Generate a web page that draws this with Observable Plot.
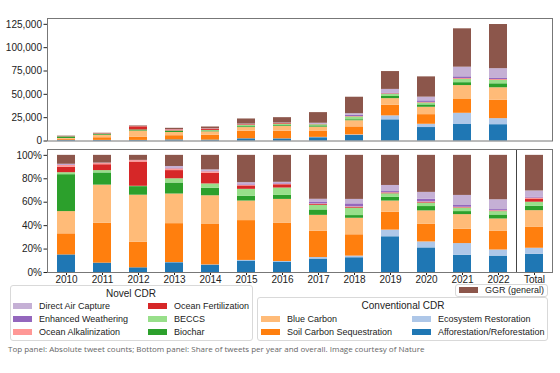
<!DOCTYPE html>
<html>
<head>
<meta charset="utf-8">
<script src="https://cdn.jsdelivr.net/npm/d3@7"></script>
<script src="https://cdn.jsdelivr.net/npm/@observablehq/plot@0.6"></script>
<style>
  html, body { margin: 0; padding: 0; background: #fff; }
  #root { position: relative; width: 560px; height: 373px; overflow: hidden; font-family: "Liberation Sans", Arial, sans-serif; color: #222; }
  .panel { position: absolute; left: 0; }
  .lbox { position: absolute; border: 1px solid #d9d9d9; border-radius: 3px; background: rgba(255,255,255,0.85); box-sizing: border-box; }
  .ltitle { position: absolute; font-size: 10px; white-space: nowrap; transform: translate(-50%, -50%); }
  .item { position: absolute; font-size: 9px; white-space: nowrap; display: flex; align-items: center; transform: translateY(-50%); }
  .sw { width: 19px; height: 6px; margin-right: 7px; }
  #caption { position: absolute; left: 8px; top: 343px; font-family: "Open Sans", sans-serif; font-size: 8px; color: #666; white-space: nowrap; }
</style>
</head>
<body>
<div id="root">
  <div id="top" class="panel" style="top:0px"></div>
  <div id="bottom" class="panel" style="top:146px"></div>
  <div id="legends"></div>
  <div id="caption">Top panel: Absolute tweet counts; Bottom panel: Share of tweets per year and overall. Image courtesy of Nature</div>
</div>
<script>
// ---------- data ----------
const years = ["2010","2011","2012","2013","2014","2015","2016","2017","2018","2019","2020","2021","2022"];
const totalLabel = "Total";
const categories = [
  "Afforestation/Reforestation", "Ecosystem Restoration", "Soil Carbon Sequestration", "Blue Carbon",
  "Biochar", "BECCS", "Ocean Fertilization", "Ocean Alkalinization", "Enhanced Weathering",
  "Direct Air Capture", "GGR (general)"
];
const colors = ["#1f77b4","#aec7e8","#ff7f0e","#ffbb78","#2ca02c","#98df8a","#d62728","#ff9896","#9467bd","#c5b0d5","#8c564b"];

// absolute tweet counts per year (top panel bar heights)
const yearTotals = [5200, 8300, 16100, 13600, 15000, 23600, 25000, 30400, 46900, 74400, 68700, 120200, 124800];

// share of tweets (%) per year, plus the overall "Total" column (last value)
const afforestation = [15, 8, 4, 8.3, 6.3, 9.8, 8.9, 11.5, 12.6, 30.5, 21, 14.7, 14, 15.5];
const ecosystem     = [0, 0, 0, 0.2, 0.2, 0.5, 0.5, 1.3, 1.4, 5.7, 5.1, 10, 5.2, 5.2];
const soilCarbon    = [18, 34, 21.9, 33.2, 34.5, 34, 32.8, 22.4, 18.2, 15.2, 15, 12.3, 15.9, 17.8];
const blueCarbon    = [19, 32.6, 40.1, 25.3, 24.5, 16.7, 20.2, 13.6, 14.1, 9.6, 11.5, 12.4, 10.6, 14.3];
const biochar       = [31.5, 10.4, 7.3, 9.4, 6.5, 4, 3.4, 4.6, 2.3, 3.1, 3.7, 2.6, 3.4, 3.8];
const beccs         = [1.7, 2, 0.3, 3.6, 3.6, 6, 6.3, 3.9, 6.3, 3.1, 2.9, 2.9, 2.9, 3.4];
const oceanFert     = [4.7, 5, 20.7, 7, 9.1, 2.9, 2.8, 0.7, 0.6, 0.6, 0.5, 0.4, 0.4, 2.3];
const oceanAlk      = [1.5, 1, 1.2, 1.5, 1.3, 0.6, 0.5, 0.5, 0.5, 0.3, 0.5, 0.4, 0.4, 1.2];
const enhWeathering = [0.5, 0.2, 0.1, 0.3, 0.3, 0.5, 0.5, 1.7, 2.6, 1.0, 2.4, 1.5, 0.9, 0.9];
const dac           = [0.5, 0.2, 0.1, 1.7, 1.3, 1.7, 1.1, 2.3, 3.8, 5.2, 5.8, 8.6, 8.4, 5.2];
const ggr           = [7.6, 6.6, 4.3, 9.5, 12.4, 23.3, 23, 37.5, 37.6, 25.7, 31.6, 34.2, 37.9, 30.4];

const shareSeries = [afforestation, ecosystem, soilCarbon, blueCarbon, biochar, beccs, oceanFert, oceanAlk, enhWeathering, dac, ggr];

// legend groups
const novelLegend = [["Direct Air Capture","Ocean Fertilization"],["Enhanced Weathering","BECCS"],["Ocean Alkalinization","Biochar"]];
const convLegend = [["Blue Carbon","Ecosystem Restoration"],["Soil Carbon Sequestration","Afforestation/Reforestation"]];

// ---------- tables ----------
const xDomain = [...years, totalLabel];
const topRows = [];
const shareRows = [];
categories.forEach((c, ci) => {
  xDomain.forEach((x, xi) => {
    const s = shareSeries[ci][xi];
    shareRows.push({x, category: c, share: s});
    if (xi < years.length) topRows.push({x, category: c, count: yearTotals[xi] * s / 100});
  });
});

const style = {fontFamily: "'Liberation Sans', Arial, sans-serif", fontSize: "10px", color: "#222", background: "transparent"};
const colorScale = {domain: categories, range: colors};
const xScale = {domain: xDomain, paddingInner: 0.5, paddingOuter: 0.25};

const topPlot = Plot.plot({
  width: 560, height: 146,
  marginLeft: 47, marginRight: 8, marginTop: 18, marginBottom: 5.5,
  style,
  x: {...xScale, axis: null},
  y: {domain: [0, 131250], ticks: [0, 25000, 50000, 75000, 100000, 125000], tickFormat: d3.format(","), tickSize: 3.5, tickPadding: 2, label: null},
  color: colorScale,
  marks: [
    Plot.barY(topRows, {x: "x", y: "count", fill: "category"}),
    Plot.frame({stroke: "#777"})
  ]
});
document.getElementById("top").appendChild(topPlot);

const bottomPlot = Plot.plot({
  width: 560, height: 146,
  marginLeft: 47, marginRight: 8, marginTop: 3, marginBottom: 20,
  style,
  x: {...xScale, tickSize: 3, tickPadding: 0, label: null},
  y: {domain: [0, 1.05], ticks: [0, 0.2, 0.4, 0.6, 0.8, 1], tickFormat: d3.format(".0%"), tickSize: 3.5, tickPadding: 2, label: null},
  color: colorScale,
  marks: [
    Plot.barY(shareRows, {x: "x", y: "share", fill: "category", offset: "normalize"}),
    Plot.ruleX([totalLabel], {dx: -18, stroke: "#444", strokeWidth: 1}),
    Plot.frame({stroke: "#777"})
  ]
});
document.getElementById("bottom").appendChild(bottomPlot);

// ---------- legends ----------
const colorOf = c => colors[categories.indexOf(c)];
const leg = document.getElementById("legends");
function box(l, t, w, h) {
  const d = document.createElement("div");
  d.className = "lbox";
  Object.assign(d.style, {left: l + "px", top: t + "px", width: w + "px", height: h + "px"});
  leg.appendChild(d);
}
function title(text, cx, cy) {
  const d = document.createElement("div");
  d.className = "ltitle"; d.textContent = text;
  Object.assign(d.style, {left: cx + "px", top: cy + "px"});
  leg.appendChild(d);
}
function item(name, x, cy) {
  const d = document.createElement("div");
  d.className = "item";
  Object.assign(d.style, {left: x + "px", top: cy + "px"});
  const s = document.createElement("span");
  s.className = "sw"; s.style.background = colorOf(name);
  d.appendChild(s);
  d.appendChild(document.createTextNode(name));
  leg.appendChild(d);
}
// Novel CDR
box(10, 285, 243, 56);
title("Novel CDR", 131, 293);
novelLegend.forEach((row, ri) => {
  item(row[0], 13, 305.5 + ri * 13);
  item(row[1], 148, 305.5 + ri * 13);
});
// Conventional CDR
box(257, 297, 291, 44);
title("Conventional CDR", 403, 305);
convLegend.forEach((row, ri) => {
  item(row[0], 261, 319 + ri * 12.8);
  item(row[1], 412, 319 + ri * 12.8);
});
// GGR
box(455, 283.5, 93, 13.5);
item("GGR (general)", 459, 290.2);
</script>
</body>
</html>
